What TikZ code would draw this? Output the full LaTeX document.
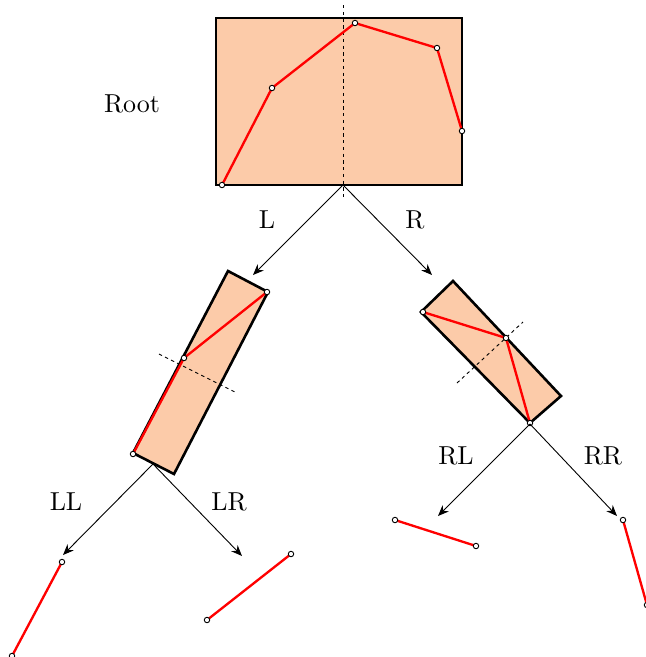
\documentclass[tikz,border=0pt]{standalone}
\usetikzlibrary{arrows.meta}
\definecolor{peach}{RGB}{252,203,169}
\tikzset{
  boxfill/.style={fill=peach, draw=black, line width=1pt, line join=miter},
  seg/.style={red, line width=0.9pt},
  pt/.style={circle, draw=black, fill=white, line width=0.35pt, inner sep=0pt, minimum size=2.1pt},
  split/.style={line width=0.35pt, dash pattern=on 1.3pt off 1.3pt},
  arr/.style={-{Stealth[length=4.2pt,width=3.4pt]}, line width=0.35pt},
  lab/.style={font=\normalsize, inner sep=0pt}
}
\begin{document}
\begin{tikzpicture}[x=0.385pt,y=-0.385pt]
\useasboundingbox (0,0) rectangle (646,657);
% root box
\draw[boxfill] (216,18) rectangle (462,185);
\draw[split] (343,5) -- (343,197);
\draw[seg] (222,185) -- (272,88) -- (355,23) -- (437,48) -- (462,131);
\foreach \p in {(222,185),(272,88),(355,23),(437,48),(462,131)} \node[pt] at \p {};
\node[lab] (root) at (132,104) {Root};
% left box
\draw[boxfill] (228,271) -- (268,292) -- (174,474) -- (133,453) -- cycle;
\draw[split] (159,354) -- (235,392);
\draw[seg] (133,454) -- (184,358) -- (267,292);
\foreach \p in {(133,454),(184,358),(267,292)} \node[pt] at \p {};
% right box
\draw[boxfill] (453,281) -- (561,396) -- (530,423) -- (421,312) -- cycle;
\draw[split] (457,383) -- (523,322);
\draw[seg] (423,312) -- (506,338) -- (530,423);
\foreach \p in {(423,312),(506,338),(530,423)} \node[pt] at \p {};
% origins and targets
\coordinate (o) at (343,185);
\coordinate (ol) at (153,464);
\coordinate (or) at (530,424);
\coordinate (tL) at (253,275);
\coordinate (tR) at (432,275);
\coordinate (tLL) at (63,555);
\coordinate (tLR) at (242,556);
\coordinate (tRL) at (438,516);
\coordinate (tRR) at (617,516);
\draw[arr] (o) -- (tL);
\draw[arr] (o) -- (tR);
\draw[arr] (ol) -- (tLL);
\draw[arr] (ol) -- (tLR);
\draw[arr] (or) -- (tRL);
\draw[arr] (or) -- (tRR);
\node[lab] (lL) at (267,220) {L};
\node[lab] (lR) at (415,220) {R};
\node[lab] (lLL) at (66,502) {LL};
\node[lab] (lLR) at (229,502) {LR};
\node[lab] (lRL) at (456,456) {RL};
\node[lab] (lRR) at (603,456) {RR};
% leaves
\draw[seg] (12,656) -- (62,562);
\node[pt] at (12,656) {};
\node[pt] at (62,562) {};
\draw[seg] (207,620) -- (291,554);
\node[pt] at (207,620) {};
\node[pt] at (291,554) {};
\draw[seg] (395,520) -- (476,546);
\node[pt] at (395,520) {};
\node[pt] at (476,546) {};
\draw[seg] (623,520) -- (647,605);
\node[pt] at (623,520) {};
\node[pt] at (647,605) {};
\end{tikzpicture}
\end{document}
